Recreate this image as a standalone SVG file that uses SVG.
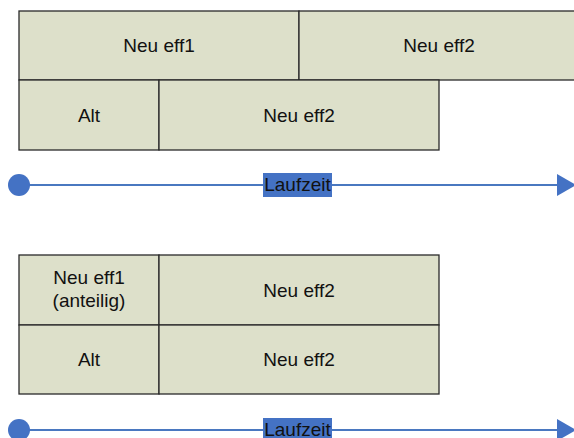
<svg xmlns="http://www.w3.org/2000/svg" width="574" height="438" viewBox="0 0 574 438">
  <style>
    .box { fill: #DDE0CA; stroke: #2a2a2a; stroke-width: 1.3; }
    .lbl { font-family: "Liberation Sans", Arial, sans-serif; font-size: 19px; fill: #111; text-anchor: middle; }
    .axis { stroke: #4A78C0; stroke-width: 2; fill: none; }
    .blue { fill: #4472C4; }
  </style>
  <rect width="574" height="438" fill="#ffffff"/>

  <g id="block1">
    <g id="b1-neu-eff1">
      <rect class="box" x="19" y="11" width="280" height="69"/>
      <text class="lbl" x="159" y="52">Neu eff1</text>
    </g>
    <g id="b1-neu-eff2-top">
      <rect class="box" x="299" y="11" width="282" height="69"/>
      <text class="lbl" x="439" y="52">Neu eff2</text>
    </g>
    <g id="b1-alt">
      <rect class="box" x="19" y="80" width="140" height="70"/>
      <text class="lbl" x="89" y="122">Alt</text>
    </g>
    <g id="b1-neu-eff2-bottom">
      <rect class="box" x="159" y="80" width="280" height="70"/>
      <text class="lbl" x="299" y="122">Neu eff2</text>
    </g>
  </g>

  <g id="block2">
    <g id="b2-neu-eff1">
      <rect class="box" x="19" y="255" width="140" height="70"/>
      <text class="lbl" x="89" y="284">Neu eff1</text>
      <text class="lbl" x="89" y="307">(anteilig)</text>
    </g>
    <g id="b2-neu-eff2-top">
      <rect class="box" x="159" y="255" width="280" height="70"/>
      <text class="lbl" x="299" y="297">Neu eff2</text>
    </g>
    <g id="b2-alt">
      <rect class="box" x="19" y="325" width="140" height="69"/>
      <text class="lbl" x="89" y="366">Alt</text>
    </g>
    <g id="b2-neu-eff2-bottom">
      <rect class="box" x="159" y="325" width="280" height="69"/>
      <text class="lbl" x="299" y="366">Neu eff2</text>
    </g>
  </g>

  <g id="connectors">
    <g id="timeline1">
      <line class="axis" x1="19" y1="185" x2="558" y2="185"/>
      <circle class="blue" cx="19" cy="185" r="11"/>
      <polygon class="blue" points="557,174 576,185 557,196"/>
      <rect class="blue" x="263" y="173" width="69" height="24"/>
      <text class="lbl" x="297.5" y="191">Laufzeit</text>
    </g>
    <g id="timeline2">
      <line class="axis" x1="19" y1="430" x2="558" y2="430"/>
      <circle class="blue" cx="19" cy="430" r="11"/>
      <polygon class="blue" points="557,419 576,430 557,441"/>
      <rect class="blue" x="263" y="418" width="69" height="24"/>
      <text class="lbl" x="297.5" y="436">Laufzeit</text>
    </g>
  </g>
</svg>
